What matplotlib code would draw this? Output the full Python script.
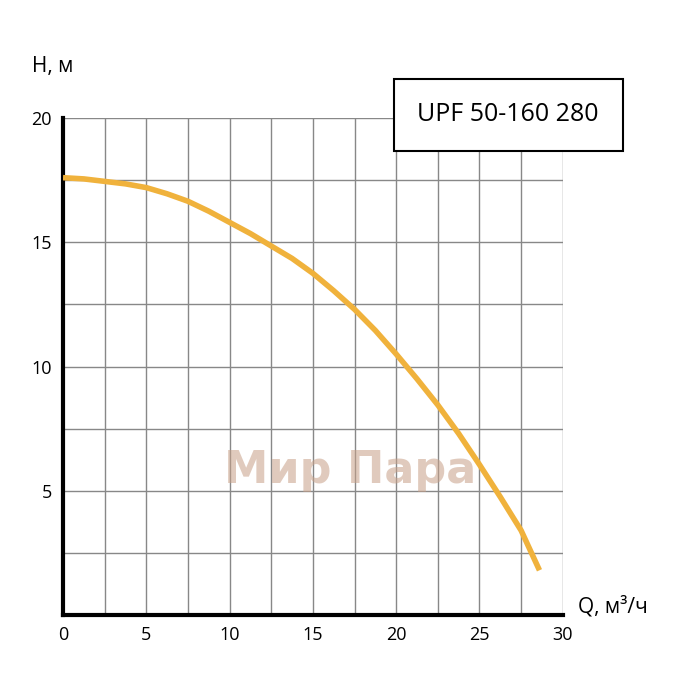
import matplotlib
matplotlib.use("Agg")
import matplotlib.pyplot as plt
import numpy as np

q = [0, 1.25, 2.5, 3.75, 5, 6.25, 7.5, 8.75, 10, 11.25, 12.5, 13.75, 15, 16.25, 17.5, 18.75, 20, 21.25, 22.5, 23.75, 25, 26.25, 27.5, 28.6]
h = [17.6, 17.55, 17.45, 17.35, 17.2, 16.95, 16.65, 16.25, 15.8, 15.35, 14.85, 14.35, 13.75, 13.05, 12.3, 11.45, 10.5, 9.5, 8.45, 7.3, 6.05, 4.75, 3.4, 1.8]
title = "UPF 50-160 280"

plt.rcParams['font.family'] = ['Open Sans', 'DejaVu Sans']
fig = plt.figure(figsize=(7, 7), dpi=100)
ax = fig.add_axes([0.09, 0.1214, 0.714, 0.71])
ax.set_xlim(0, 30)
ax.set_ylim(0, 20)
ax.set_xticks(np.arange(0, 30.1, 2.5))
ax.set_yticks(np.arange(0, 20.1, 2.5))
ax.grid(True, color='#888888', linewidth=1)
ax.set_xticklabels([f"{int(v)}" if v % 5 == 0 else "" for v in np.arange(0, 30.1, 2.5)])
ax.set_yticklabels(["" if (v % 5 != 0 or v == 0) else f"{int(v)}" for v in np.arange(0, 20.1, 2.5)])
ax.tick_params(length=0, labelsize=13, pad=8)
for s in ['top', 'right']:
    ax.spines[s].set_visible(False)
for s in ['left', 'bottom']:
    ax.spines[s].set_linewidth(3)
ax.plot(q, h, color='#f0b23c', linewidth=4, solid_capstyle='butt', zorder=3)
fig.text(350/700, 1 - 470/700, "Мир Пара", ha='center', va='center',
         fontsize=32, fontweight='bold', color='#c8a088', alpha=0.55, family='DejaVu Sans', zorder=5)
fig.text(0.045, 0.89, "H, м", fontsize=15, ha='left', va='bottom')
fig.text(0.825, 0.118, "Q, м³/ч", fontsize=15, ha='left', va='bottom')
fig.text(0.726, 0.836, title, fontsize=18, ha='center', va='center',
         bbox=dict(boxstyle='square,pad=0.95', fc='white', ec='black', lw=1.5))
fig.savefig("out.png", dpi=100)
